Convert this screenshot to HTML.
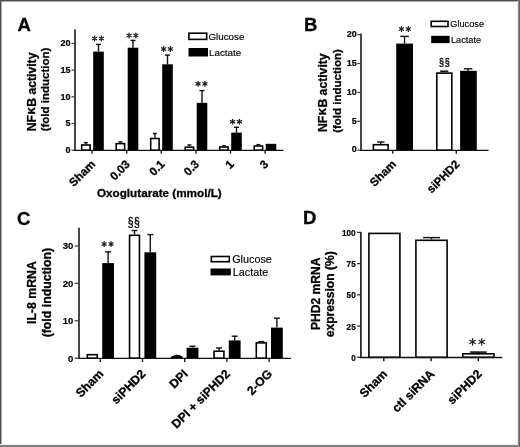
<!DOCTYPE html>
<html><head><meta charset="utf-8"><style>
html,body{margin:0;padding:0;background:#fff;}
#fig{position:relative;width:520px;height:447px;overflow:hidden;background:#fff;}
#fig svg{position:absolute;left:0;top:0;will-change:transform;}
.b{position:absolute;}
text{font-family:"Liberation Sans", sans-serif;}
</style></head><body>
<div id="fig">
<svg width="520" height="447" viewBox="0 0 520 447" font-family='"Liberation Sans", sans-serif'>
<text x="17.50" y="31.00" font-size="18.5" font-weight="bold" text-anchor="start" fill="#000" stroke="#000" stroke-width="0.3">A</text>
<line x1="75.00" y1="29.50" x2="75.00" y2="150.80" stroke="#474747" stroke-width="2.0"/>
<line x1="71.50" y1="150.20" x2="75.00" y2="150.20" stroke="#474747" stroke-width="1.3"/>
<text x="70.40" y="152.94" font-size="9.0" font-weight="bold" text-anchor="end" fill="#000" stroke="#000" stroke-width="0.2">0</text>
<line x1="71.50" y1="123.50" x2="75.00" y2="123.50" stroke="#474747" stroke-width="1.3"/>
<text x="70.40" y="126.24" font-size="9.0" font-weight="bold" text-anchor="end" fill="#000" stroke="#000" stroke-width="0.2">5</text>
<line x1="71.50" y1="96.80" x2="75.00" y2="96.80" stroke="#474747" stroke-width="1.3"/>
<text x="70.40" y="99.54" font-size="9.0" font-weight="bold" text-anchor="end" fill="#000" stroke="#000" stroke-width="0.2">10</text>
<line x1="71.50" y1="70.10" x2="75.00" y2="70.10" stroke="#474747" stroke-width="1.3"/>
<text x="70.40" y="72.84" font-size="9.0" font-weight="bold" text-anchor="end" fill="#000" stroke="#000" stroke-width="0.2">15</text>
<line x1="71.50" y1="43.40" x2="75.00" y2="43.40" stroke="#474747" stroke-width="1.3"/>
<text x="70.40" y="46.14" font-size="9.0" font-weight="bold" text-anchor="end" fill="#000" stroke="#000" stroke-width="0.2">20</text>
<rect x="81.70" y="145.00" width="8.40" height="5.20" fill="#fff" stroke="#000" stroke-width="1.6"/>
<line x1="85.90" y1="144.20" x2="85.90" y2="142.60" stroke="#111" stroke-width="1.4"/>
<line x1="83.90" y1="142.60" x2="87.90" y2="142.60" stroke="#111" stroke-width="1.4"/>
<rect x="93.20" y="51.60" width="10.60" height="98.60" fill="#000"/>
<line x1="98.50" y1="51.60" x2="98.50" y2="44.40" stroke="#111" stroke-width="1.4"/>
<line x1="96.00" y1="44.40" x2="101.00" y2="44.40" stroke="#111" stroke-width="1.4"/>
<rect x="116.20" y="143.60" width="8.40" height="6.60" fill="#fff" stroke="#000" stroke-width="1.6"/>
<line x1="120.40" y1="142.80" x2="120.40" y2="141.90" stroke="#111" stroke-width="1.4"/>
<line x1="118.40" y1="141.90" x2="122.40" y2="141.90" stroke="#111" stroke-width="1.4"/>
<rect x="127.70" y="47.70" width="10.60" height="102.50" fill="#000"/>
<line x1="133.00" y1="47.70" x2="133.00" y2="40.40" stroke="#111" stroke-width="1.4"/>
<line x1="130.50" y1="40.40" x2="135.50" y2="40.40" stroke="#111" stroke-width="1.4"/>
<rect x="150.70" y="138.50" width="8.40" height="11.70" fill="#fff" stroke="#000" stroke-width="1.6"/>
<line x1="154.90" y1="137.70" x2="154.90" y2="133.50" stroke="#111" stroke-width="1.4"/>
<line x1="152.90" y1="133.50" x2="156.90" y2="133.50" stroke="#111" stroke-width="1.4"/>
<rect x="162.20" y="64.30" width="10.60" height="85.90" fill="#000"/>
<line x1="167.50" y1="64.30" x2="167.50" y2="55.10" stroke="#111" stroke-width="1.4"/>
<line x1="165.00" y1="55.10" x2="170.00" y2="55.10" stroke="#111" stroke-width="1.4"/>
<rect x="185.20" y="147.20" width="8.40" height="3.00" fill="#fff" stroke="#000" stroke-width="1.6"/>
<line x1="189.40" y1="146.40" x2="189.40" y2="145.00" stroke="#111" stroke-width="1.4"/>
<line x1="187.40" y1="145.00" x2="191.40" y2="145.00" stroke="#111" stroke-width="1.4"/>
<rect x="196.70" y="102.80" width="10.60" height="47.40" fill="#000"/>
<line x1="202.00" y1="102.80" x2="202.00" y2="90.60" stroke="#111" stroke-width="1.4"/>
<line x1="199.50" y1="90.60" x2="204.50" y2="90.60" stroke="#111" stroke-width="1.4"/>
<rect x="219.70" y="147.00" width="8.40" height="3.20" fill="#fff" stroke="#000" stroke-width="1.6"/>
<line x1="223.90" y1="146.20" x2="223.90" y2="145.80" stroke="#111" stroke-width="1.4"/>
<line x1="221.90" y1="145.80" x2="225.90" y2="145.80" stroke="#111" stroke-width="1.4"/>
<rect x="231.20" y="132.60" width="10.60" height="17.60" fill="#000"/>
<line x1="236.50" y1="132.60" x2="236.50" y2="127.30" stroke="#111" stroke-width="1.4"/>
<line x1="234.00" y1="127.30" x2="239.00" y2="127.30" stroke="#111" stroke-width="1.4"/>
<rect x="254.20" y="146.00" width="8.40" height="4.20" fill="#fff" stroke="#000" stroke-width="1.6"/>
<line x1="258.40" y1="145.20" x2="258.40" y2="144.60" stroke="#111" stroke-width="1.4"/>
<line x1="256.40" y1="144.60" x2="260.40" y2="144.60" stroke="#111" stroke-width="1.4"/>
<rect x="265.70" y="143.80" width="10.60" height="6.40" fill="#000"/>
<line x1="74.10" y1="150.30" x2="283.50" y2="150.30" stroke="#111" stroke-width="1.3"/>
<line x1="92.10" y1="150.30" x2="92.10" y2="153.70" stroke="#111" stroke-width="1.3"/>
<line x1="126.70" y1="150.30" x2="126.70" y2="153.70" stroke="#111" stroke-width="1.3"/>
<line x1="161.30" y1="150.30" x2="161.30" y2="153.70" stroke="#111" stroke-width="1.3"/>
<line x1="195.90" y1="150.30" x2="195.90" y2="153.70" stroke="#111" stroke-width="1.3"/>
<line x1="230.50" y1="150.30" x2="230.50" y2="153.70" stroke="#111" stroke-width="1.3"/>
<line x1="265.10" y1="150.30" x2="265.10" y2="153.70" stroke="#111" stroke-width="1.3"/>
<path d="M94.60 40.90L94.60 36.10M92.52 39.70L96.68 37.30M92.52 37.30L96.68 39.70" stroke="#222" stroke-width="1.3" stroke-linecap="round" fill="none"/>
<path d="M101.40 40.90L101.40 36.10M99.32 39.70L103.48 37.30M99.32 37.30L103.48 39.70" stroke="#222" stroke-width="1.3" stroke-linecap="round" fill="none"/>
<path d="M129.10 37.90L129.10 33.10M127.02 36.70L131.18 34.30M127.02 34.30L131.18 36.70" stroke="#222" stroke-width="1.3" stroke-linecap="round" fill="none"/>
<path d="M135.90 37.90L135.90 33.10M133.82 36.70L137.98 34.30M133.82 34.30L137.98 36.70" stroke="#222" stroke-width="1.3" stroke-linecap="round" fill="none"/>
<path d="M163.60 51.40L163.60 46.60M161.52 50.20L165.68 47.80M161.52 47.80L165.68 50.20" stroke="#222" stroke-width="1.3" stroke-linecap="round" fill="none"/>
<path d="M170.40 51.40L170.40 46.60M168.32 50.20L172.48 47.80M168.32 47.80L172.48 50.20" stroke="#222" stroke-width="1.3" stroke-linecap="round" fill="none"/>
<path d="M198.10 86.20L198.10 81.40M196.02 85.00L200.18 82.60M196.02 82.60L200.18 85.00" stroke="#222" stroke-width="1.3" stroke-linecap="round" fill="none"/>
<path d="M204.90 86.20L204.90 81.40M202.82 85.00L206.98 82.60M202.82 82.60L206.98 85.00" stroke="#222" stroke-width="1.3" stroke-linecap="round" fill="none"/>
<path d="M232.60 124.10L232.60 119.30M230.52 122.90L234.68 120.50M230.52 120.50L234.68 122.90" stroke="#222" stroke-width="1.3" stroke-linecap="round" fill="none"/>
<path d="M239.40 124.10L239.40 119.30M237.32 122.90L241.48 120.50M237.32 120.50L241.48 122.90" stroke="#222" stroke-width="1.3" stroke-linecap="round" fill="none"/>
<rect x="188.9" y="33.2" width="17.8" height="6.2" fill="#fff" stroke="#000" stroke-width="1.6"/>
<rect x="188.5" y="48" width="19.5" height="8.5" fill="#000"/>
<text x="208.40" y="39.70" font-size="9.8" font-weight="normal" text-anchor="start" fill="#000" stroke="#000" stroke-width="0.15">Glucose</text>
<text x="209.00" y="55.60" font-size="9.8" font-weight="normal" text-anchor="start" fill="#000" stroke="#000" stroke-width="0.15">Lactate</text>
<text x="35.90" y="91.90" font-size="12.2" font-weight="bold" text-anchor="middle" fill="#000" transform="rotate(-90 35.90 91.90)" stroke="#000" stroke-width="0.3">NF<tspan font-size="13.6" dx="0.3" dy="-0.8">&#954;</tspan><tspan dx="0.3" dy="0.8">B activity</tspan></text>
<text x="49.30" y="89.50" font-size="11.5" font-weight="bold" text-anchor="middle" fill="#000" transform="rotate(-90 49.30 89.50)" stroke="#000" stroke-width="0.3">(fold induction)</text>
<text x="96.10" y="165.00" font-size="11.6" font-weight="bold" text-anchor="end" fill="#000" transform="rotate(-45 96.10 165.00)" stroke="#000" stroke-width="0.3">Sham</text>
<text x="130.70" y="165.00" font-size="11.6" font-weight="bold" text-anchor="end" fill="#000" transform="rotate(-45 130.70 165.00)" stroke="#000" stroke-width="0.3">0.03</text>
<text x="165.30" y="165.00" font-size="11.6" font-weight="bold" text-anchor="end" fill="#000" transform="rotate(-45 165.30 165.00)" stroke="#000" stroke-width="0.3">0.1</text>
<text x="199.90" y="165.00" font-size="11.6" font-weight="bold" text-anchor="end" fill="#000" transform="rotate(-45 199.90 165.00)" stroke="#000" stroke-width="0.3">0.3</text>
<text x="234.50" y="165.00" font-size="11.6" font-weight="bold" text-anchor="end" fill="#000" transform="rotate(-45 234.50 165.00)" stroke="#000" stroke-width="0.3">1</text>
<text x="269.10" y="165.00" font-size="11.6" font-weight="bold" text-anchor="end" fill="#000" transform="rotate(-45 269.10 165.00)" stroke="#000" stroke-width="0.3">3</text>
<text x="97.00" y="197.10" font-size="11.7" font-weight="bold" text-anchor="start" fill="#000" stroke="#000" stroke-width="0.3">Oxoglutarate (mmol/L)</text>
<text x="304.00" y="31.00" font-size="18.5" font-weight="bold" text-anchor="start" fill="#000" stroke="#000" stroke-width="0.3">B</text>
<line x1="361.00" y1="33.50" x2="361.00" y2="150.80" stroke="#474747" stroke-width="2.0"/>
<line x1="357.20" y1="150.20" x2="361.00" y2="150.20" stroke="#474747" stroke-width="1.3"/>
<text x="356.80" y="152.44" font-size="9" font-weight="bold" text-anchor="end" fill="#000" stroke="#000" stroke-width="0.2">0</text>
<line x1="357.20" y1="121.30" x2="361.00" y2="121.30" stroke="#474747" stroke-width="1.3"/>
<text x="356.80" y="123.54" font-size="9" font-weight="bold" text-anchor="end" fill="#000" stroke="#000" stroke-width="0.2">5</text>
<line x1="357.20" y1="92.40" x2="361.00" y2="92.40" stroke="#474747" stroke-width="1.3"/>
<text x="356.80" y="94.64" font-size="9" font-weight="bold" text-anchor="end" fill="#000" stroke="#000" stroke-width="0.2">10</text>
<line x1="357.20" y1="63.50" x2="361.00" y2="63.50" stroke="#474747" stroke-width="1.3"/>
<text x="356.80" y="65.74" font-size="9" font-weight="bold" text-anchor="end" fill="#000" stroke="#000" stroke-width="0.2">15</text>
<line x1="357.20" y1="34.60" x2="361.00" y2="34.60" stroke="#474747" stroke-width="1.3"/>
<text x="356.80" y="36.84" font-size="9" font-weight="bold" text-anchor="end" fill="#000" stroke="#000" stroke-width="0.2">20</text>
<rect x="373.40" y="144.70" width="14.70" height="5.50" fill="#fff" stroke="#000" stroke-width="1.6"/>
<line x1="380.75" y1="143.90" x2="380.75" y2="142.00" stroke="#111" stroke-width="1.4"/>
<line x1="377.00" y1="142.00" x2="384.50" y2="142.00" stroke="#111" stroke-width="1.4"/>
<rect x="396.20" y="43.60" width="16.80" height="106.60" fill="#000"/>
<line x1="404.55" y1="43.60" x2="404.55" y2="36.40" stroke="#111" stroke-width="1.4"/>
<line x1="400.25" y1="36.40" x2="408.85" y2="36.40" stroke="#111" stroke-width="1.4"/>
<rect x="436.80" y="73.10" width="15.00" height="77.10" fill="#fff" stroke="#000" stroke-width="1.6"/>
<line x1="444.20" y1="72.30" x2="444.20" y2="71.20" stroke="#111" stroke-width="1.5"/>
<line x1="440.10" y1="71.20" x2="448.30" y2="71.20" stroke="#111" stroke-width="1.5"/>
<rect x="460.10" y="70.80" width="16.70" height="79.40" fill="#000"/>
<line x1="468.10" y1="70.80" x2="468.10" y2="68.80" stroke="#111" stroke-width="1.4"/>
<line x1="463.85" y1="68.80" x2="472.35" y2="68.80" stroke="#111" stroke-width="1.4"/>
<line x1="360.10" y1="150.40" x2="488.50" y2="150.40" stroke="#111" stroke-width="1.3"/>
<line x1="392.80" y1="150.40" x2="392.80" y2="153.80" stroke="#111" stroke-width="1.3"/>
<line x1="456.30" y1="150.40" x2="456.30" y2="153.80" stroke="#111" stroke-width="1.3"/>
<path d="M401.50 31.40L401.50 26.60M399.42 30.20L403.58 27.80M399.42 27.80L403.58 30.20" stroke="#222" stroke-width="1.3" stroke-linecap="round" fill="none"/>
<path d="M408.30 31.40L408.30 26.60M406.22 30.20L410.38 27.80M406.22 27.80L410.38 30.20" stroke="#222" stroke-width="1.3" stroke-linecap="round" fill="none"/>
<text x="0" y="0" font-size="10.75" text-anchor="middle" letter-spacing="0.7" stroke="#000" stroke-width="0.35" transform="translate(444.69 65.60) scale(0.84 1)">&#167;&#167;</text>
<rect x="431.2" y="21.3" width="16.8" height="5.2" fill="#fff" stroke="#000" stroke-width="1.6"/>
<rect x="431.2" y="35.8" width="18.4" height="7.3" fill="#000"/>
<text x="450.30" y="27.00" font-size="9.2" font-weight="normal" text-anchor="start" fill="#000" stroke="#000" stroke-width="0.15">Glucose</text>
<text x="451.00" y="42.70" font-size="9.2" font-weight="normal" text-anchor="start" fill="#000" stroke="#000" stroke-width="0.15">Lactate</text>
<text x="326.70" y="92.70" font-size="12.2" font-weight="bold" text-anchor="middle" fill="#000" transform="rotate(-90 326.70 92.70)" stroke="#000" stroke-width="0.3">NF<tspan font-size="13.6" dx="0.3" dy="-0.8">&#954;</tspan><tspan dx="0.3" dy="0.8">B activity</tspan></text>
<text x="341.20" y="91.00" font-size="11.5" font-weight="bold" text-anchor="middle" fill="#000" transform="rotate(-90 341.20 91.00)" stroke="#000" stroke-width="0.3">(fold induction)</text>
<text x="396.80" y="165.00" font-size="11.6" font-weight="bold" text-anchor="end" fill="#000" transform="rotate(-45 396.80 165.00)" stroke="#000" stroke-width="0.3">Sham</text>
<text x="460.30" y="165.00" font-size="11.6" font-weight="bold" text-anchor="end" fill="#000" transform="rotate(-45 460.30 165.00)" stroke="#000" stroke-width="0.3">siPHD2</text>
<text x="17.00" y="225.00" font-size="18.5" font-weight="bold" text-anchor="start" fill="#000" stroke="#000" stroke-width="0.3">C</text>
<line x1="79.00" y1="227.70" x2="79.00" y2="358.80" stroke="#474747" stroke-width="2.0"/>
<line x1="74.60" y1="358.20" x2="79.00" y2="358.20" stroke="#474747" stroke-width="1.3"/>
<text x="73.40" y="361.52" font-size="9.5" font-weight="bold" text-anchor="end" fill="#000" stroke="#000" stroke-width="0.2">0</text>
<line x1="74.60" y1="320.80" x2="79.00" y2="320.80" stroke="#474747" stroke-width="1.3"/>
<text x="73.40" y="324.12" font-size="9.5" font-weight="bold" text-anchor="end" fill="#000" stroke="#000" stroke-width="0.2">10</text>
<line x1="74.60" y1="283.40" x2="79.00" y2="283.40" stroke="#474747" stroke-width="1.3"/>
<text x="73.40" y="286.72" font-size="9.5" font-weight="bold" text-anchor="end" fill="#000" stroke="#000" stroke-width="0.2">20</text>
<line x1="74.60" y1="246.00" x2="79.00" y2="246.00" stroke="#474747" stroke-width="1.3"/>
<text x="73.40" y="249.32" font-size="9.5" font-weight="bold" text-anchor="end" fill="#000" stroke="#000" stroke-width="0.2">30</text>
<rect x="87.30" y="354.70" width="9.90" height="3.50" fill="#fff" stroke="#000" stroke-width="1.6"/>
<rect x="102.20" y="263.10" width="11.80" height="95.10" fill="#000"/>
<line x1="108.10" y1="263.10" x2="108.10" y2="251.80" stroke="#111" stroke-width="1.4"/>
<line x1="105.10" y1="251.80" x2="111.10" y2="251.80" stroke="#111" stroke-width="1.4"/>
<rect x="129.55" y="235.30" width="9.90" height="122.90" fill="#fff" stroke="#000" stroke-width="1.6"/>
<line x1="134.50" y1="234.50" x2="134.50" y2="230.50" stroke="#111" stroke-width="1.4"/>
<line x1="131.50" y1="230.50" x2="137.50" y2="230.50" stroke="#111" stroke-width="1.4"/>
<rect x="144.40" y="252.30" width="11.80" height="105.90" fill="#000"/>
<line x1="150.30" y1="252.30" x2="150.30" y2="234.60" stroke="#111" stroke-width="1.4"/>
<line x1="147.30" y1="234.60" x2="153.30" y2="234.60" stroke="#111" stroke-width="1.4"/>
<path d="M170.6 358.3L170.9 357.0Q171.6 356.3 173.2 356.1L174.6 355.0Q177.1 354.5 179.6 355.0L181.0 356.1Q182.4 356.3 182.7 357.0L182.8 358.3Z" fill="#000"/>
<rect x="186.60" y="347.70" width="11.80" height="10.50" fill="#000"/>
<line x1="192.50" y1="347.70" x2="192.50" y2="346.20" stroke="#111" stroke-width="1.4"/>
<line x1="189.50" y1="346.20" x2="195.50" y2="346.20" stroke="#111" stroke-width="1.4"/>
<rect x="214.05" y="351.20" width="9.90" height="7.00" fill="#fff" stroke="#000" stroke-width="1.6"/>
<line x1="219.00" y1="350.40" x2="219.00" y2="348.00" stroke="#111" stroke-width="1.4"/>
<line x1="216.00" y1="348.00" x2="222.00" y2="348.00" stroke="#111" stroke-width="1.4"/>
<rect x="228.80" y="340.40" width="11.80" height="17.80" fill="#000"/>
<line x1="234.70" y1="340.40" x2="234.70" y2="336.20" stroke="#111" stroke-width="1.4"/>
<line x1="231.70" y1="336.20" x2="237.70" y2="336.20" stroke="#111" stroke-width="1.4"/>
<rect x="256.30" y="342.90" width="9.90" height="15.30" fill="#fff" stroke="#000" stroke-width="1.6"/>
<line x1="261.25" y1="342.10" x2="261.25" y2="341.60" stroke="#111" stroke-width="1.4"/>
<line x1="258.25" y1="341.60" x2="264.25" y2="341.60" stroke="#111" stroke-width="1.4"/>
<rect x="271.00" y="327.60" width="11.80" height="30.60" fill="#000"/>
<line x1="276.90" y1="327.60" x2="276.90" y2="318.20" stroke="#111" stroke-width="1.4"/>
<line x1="273.90" y1="318.20" x2="279.90" y2="318.20" stroke="#111" stroke-width="1.4"/>
<line x1="78.10" y1="358.40" x2="290.90" y2="358.40" stroke="#111" stroke-width="1.3"/>
<line x1="100.30" y1="358.40" x2="100.30" y2="362.00" stroke="#111" stroke-width="1.3"/>
<line x1="142.50" y1="358.40" x2="142.50" y2="362.00" stroke="#111" stroke-width="1.3"/>
<line x1="184.70" y1="358.40" x2="184.70" y2="362.00" stroke="#111" stroke-width="1.3"/>
<line x1="226.90" y1="358.40" x2="226.90" y2="362.00" stroke="#111" stroke-width="1.3"/>
<line x1="269.10" y1="358.40" x2="269.10" y2="362.00" stroke="#111" stroke-width="1.3"/>
<path d="M104.15 246.40L104.15 241.60M102.07 245.20L106.23 242.80M102.07 242.80L106.23 245.20" stroke="#222" stroke-width="1.25" stroke-linecap="round" fill="none"/>
<path d="M111.05 246.40L111.05 241.60M108.97 245.20L113.13 242.80M108.97 242.80L113.13 245.20" stroke="#222" stroke-width="1.25" stroke-linecap="round" fill="none"/>
<text x="0" y="0" font-size="12.4" text-anchor="middle" letter-spacing="0.6" stroke="#000" stroke-width="0.35" transform="translate(133.95 225.80) scale(0.84 1)">&#167;&#167;</text>
<rect x="211.3" y="256.5" width="18" height="5.2" fill="#fff" stroke="#000" stroke-width="1.6"/>
<rect x="210.5" y="268.5" width="20.3" height="6.9" fill="#000"/>
<text x="232.20" y="262.80" font-size="10.8" font-weight="normal" text-anchor="start" fill="#000" stroke="#000" stroke-width="0.15">Glucose</text>
<text x="232.80" y="276.00" font-size="10.8" font-weight="normal" text-anchor="start" fill="#000" stroke="#000" stroke-width="0.15">Lactate</text>
<text x="35.70" y="292.60" font-size="12.3" font-weight="bold" text-anchor="middle" fill="#000" transform="rotate(-90 35.70 292.60)" stroke="#000" stroke-width="0.3">IL-8 mRNA</text>
<text x="51.00" y="292.60" font-size="12.3" font-weight="bold" text-anchor="middle" fill="#000" transform="rotate(-90 51.00 292.60)" stroke="#000" stroke-width="0.3">(fold induction)</text>
<text x="104.20" y="374.60" font-size="12.2" font-weight="bold" text-anchor="end" fill="#000" transform="rotate(-45 104.20 374.60)" stroke="#000" stroke-width="0.3">Sham</text>
<text x="146.40" y="374.60" font-size="12.2" font-weight="bold" text-anchor="end" fill="#000" transform="rotate(-45 146.40 374.60)" stroke="#000" stroke-width="0.3">siPHD2</text>
<text x="188.60" y="374.60" font-size="12.2" font-weight="bold" text-anchor="end" fill="#000" transform="rotate(-45 188.60 374.60)" stroke="#000" stroke-width="0.3">DPI</text>
<text x="230.80" y="374.60" font-size="12.2" font-weight="bold" text-anchor="end" fill="#000" transform="rotate(-45 230.80 374.60)" stroke="#000" stroke-width="0.3">DPI + siPHD2</text>
<text x="273.00" y="374.60" font-size="12.2" font-weight="bold" text-anchor="end" fill="#000" transform="rotate(-45 273.00 374.60)" stroke="#000" stroke-width="0.3">2-OG</text>
<text x="303.00" y="224.00" font-size="18.5" font-weight="bold" text-anchor="start" fill="#000" stroke="#000" stroke-width="0.3">D</text>
<line x1="360.90" y1="231.90" x2="360.90" y2="357.90" stroke="#2b2b2b" stroke-width="1.8"/>
<line x1="357.10" y1="357.30" x2="360.90" y2="357.30" stroke="#2b2b2b" stroke-width="1.3"/>
<text x="355.70" y="360.75" font-size="8.2" font-weight="bold" text-anchor="end" fill="#000" stroke="#000" stroke-width="0.2">0</text>
<line x1="357.10" y1="326.07" x2="360.90" y2="326.07" stroke="#2b2b2b" stroke-width="1.3"/>
<text x="355.70" y="329.53" font-size="8.2" font-weight="bold" text-anchor="end" fill="#000" stroke="#000" stroke-width="0.2">25</text>
<line x1="357.10" y1="294.85" x2="360.90" y2="294.85" stroke="#2b2b2b" stroke-width="1.3"/>
<text x="355.70" y="298.30" font-size="8.2" font-weight="bold" text-anchor="end" fill="#000" stroke="#000" stroke-width="0.2">50</text>
<line x1="357.10" y1="263.62" x2="360.90" y2="263.62" stroke="#2b2b2b" stroke-width="1.3"/>
<text x="355.70" y="267.08" font-size="8.2" font-weight="bold" text-anchor="end" fill="#000" stroke="#000" stroke-width="0.2">75</text>
<line x1="357.10" y1="232.40" x2="360.90" y2="232.40" stroke="#2b2b2b" stroke-width="1.3"/>
<text x="355.70" y="235.85" font-size="8.2" font-weight="bold" text-anchor="end" fill="#000" stroke="#000" stroke-width="0.2">100</text>
<rect x="368.90" y="233.40" width="31.00" height="123.90" fill="#fff" stroke="#000" stroke-width="1.6"/>
<rect x="415.90" y="240.30" width="31.20" height="117.00" fill="#fff" stroke="#000" stroke-width="1.6"/>
<line x1="431.50" y1="239.50" x2="431.50" y2="237.60" stroke="#111" stroke-width="1.4"/>
<line x1="423.00" y1="237.60" x2="440.00" y2="237.60" stroke="#111" stroke-width="1.4"/>
<rect x="462.80" y="353.80" width="31.20" height="3.50" fill="#fff" stroke="#000" stroke-width="1.6"/>
<line x1="478.35" y1="353.00" x2="478.35" y2="352.10" stroke="#111" stroke-width="1.6"/>
<line x1="470.10" y1="352.10" x2="486.60" y2="352.10" stroke="#111" stroke-width="1.6"/>
<line x1="360.00" y1="357.50" x2="502.20" y2="357.50" stroke="#111" stroke-width="1.4"/>
<line x1="383.80" y1="357.50" x2="383.80" y2="361.30" stroke="#111" stroke-width="1.4"/>
<line x1="431.10" y1="357.50" x2="431.10" y2="361.30" stroke="#111" stroke-width="1.4"/>
<line x1="478.30" y1="357.50" x2="478.30" y2="361.30" stroke="#111" stroke-width="1.4"/>
<path d="M472.55 345.15L472.55 338.65M469.74 343.52L475.36 340.27M469.74 340.27L475.36 343.52" stroke="#222" stroke-width="1.2" stroke-linecap="round" fill="none"/>
<path d="M481.75 345.15L481.75 338.65M478.94 343.52L484.56 340.27M478.94 340.27L484.56 343.52" stroke="#222" stroke-width="1.2" stroke-linecap="round" fill="none"/>
<text x="319.80" y="293.80" font-size="12.1" font-weight="bold" text-anchor="middle" fill="#000" transform="rotate(-90 319.80 293.80)" stroke="#000" stroke-width="0.3">PHD2 mRNA</text>
<text x="334.00" y="294.20" font-size="12.1" font-weight="bold" text-anchor="middle" fill="#000" transform="rotate(-90 334.00 294.20)" stroke="#000" stroke-width="0.3">expression (%)</text>
<text x="388.00" y="374.80" font-size="12.2" font-weight="bold" text-anchor="end" fill="#000" transform="rotate(-45 388.00 374.80)" stroke="#000" stroke-width="0.3">Sham</text>
<text x="435.30" y="374.80" font-size="12.2" font-weight="bold" text-anchor="end" fill="#000" transform="rotate(-45 435.30 374.80)" stroke="#000" stroke-width="0.3">ctl siRNA</text>
<text x="482.50" y="374.80" font-size="12.2" font-weight="bold" text-anchor="end" fill="#000" transform="rotate(-45 482.50 374.80)" stroke="#000" stroke-width="0.3">siPHD2</text>
</svg>
<div class="b" style="left:0;top:0;width:520px;height:1px;background:#4e4e4e"></div>
<div class="b" style="left:1px;top:1px;width:517px;height:1px;background:#a8a8a8"></div>
<div class="b" style="left:0;top:0;width:1px;height:447px;background:#4e4e4e"></div>
<div class="b" style="left:1px;top:1px;width:1px;height:445px;background:#a8a8a8"></div>
<div class="b" style="left:517px;top:1px;width:1px;height:444px;background:#e6e6e6"></div>
<div class="b" style="left:518px;top:0;width:1px;height:447px;background:#8c8c8c"></div>
<div class="b" style="left:519px;top:0;width:1px;height:447px;background:#646464"></div>
<div class="b" style="left:0;top:444px;width:518px;height:1px;background:#e8e8e8"></div>
<div class="b" style="left:0;top:445px;width:518px;height:1px;background:#8a8a8a"></div>
<div class="b" style="left:0;top:446px;width:518px;height:1px;background:#777"></div>
</div>
</body></html>
